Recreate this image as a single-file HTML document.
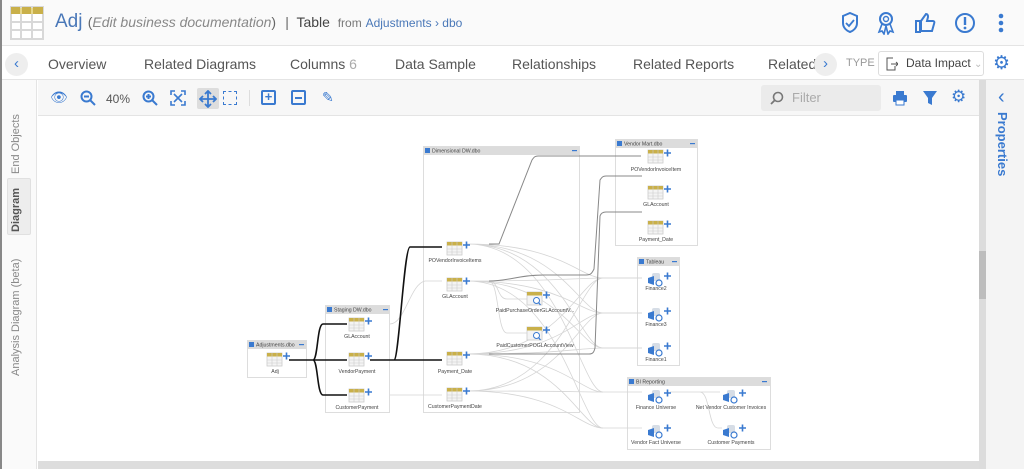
<!DOCTYPE html>
<html><head><meta charset="utf-8"><style>
*{margin:0;padding:0;box-sizing:border-box}
body{width:1024px;height:469px;overflow:hidden;background:#fff;font-family:"Liberation Sans","DejaVu Sans",sans-serif;position:relative}
.abs{position:absolute}
.tab{position:absolute;top:56px;font-size:14px;color:#555}
</style></head><body>
<!-- header -->
<div class="abs" style="left:0;top:0;width:1024px;height:46px;background:#fafafa;border-bottom:1px solid #e4e4e4"></div>
<svg class="abs" style="left:10px;top:6px" width="34" height="34"><rect x="1" y="1" width="32" height="32" fill="#fff" stroke="#d8d8d8" stroke-width="2"/><rect x="1" y="1" width="32" height="7" fill="#c9b04a"/><path d="M11 1V33M22 1V33M1 16H33M1 24H33" stroke="#d8d8d8" stroke-width="2"/><path d="M11 2V8M22 2V8" stroke="#e8d88a" stroke-width="2"/></svg>
<div class="abs" style="left:55px;top:11px;font-size:19px;color:#4a78b8">Adj <span style="font-size:14px;color:#888"><span style="color:#666">(</span><i>Edit business documentation</i><span style="color:#666">)</span></span> <span style="font-size:14px;color:#666">&nbsp;|&nbsp; <span style="color:#444">Table</span> &nbsp;<span style="font-size:12px;color:#777">from</span> <span style="font-size:12px;color:#4a78b8">Adjustments › dbo</span></span></div>
<svg class="abs" style="left:841px;top:12px" width="18" height="22"><path d="M9 1l7 3v7c0 5-4 8-7 9-3-1-7-4-7-9V4z" fill="none" stroke="#3a7ad0" stroke-width="2"/><path d="M5 11l3 3 5-6" fill="none" stroke="#3a7ad0" stroke-width="1.8"/></svg>
<svg class="abs" style="left:876px;top:11px" width="20" height="24"><circle cx="10" cy="8" r="6" fill="none" stroke="#3a7ad0" stroke-width="2"/><circle cx="10" cy="8" r="2.5" fill="none" stroke="#3a7ad0" stroke-width="1.4"/><path d="M6 13l-3 8 3-1 2 3 2-8M14 13l3 8-3-1-2 3-2-8" fill="none" stroke="#3a7ad0" stroke-width="1.6"/></svg>
<svg class="abs" style="left:914px;top:12px" width="22" height="22"><path d="M2 9h4v11H2zM7 9l5-7c2 0 2 2 2 3l-1 4h6c1 0 2 1 1 3l-2 7H7z" fill="none" stroke="#3a7ad0" stroke-width="2"/></svg>
<svg class="abs" style="left:954px;top:12px" width="22" height="22"><circle cx="11" cy="11" r="9" fill="none" stroke="#3a7ad0" stroke-width="2"/><path d="M11 5v8" stroke="#3a7ad0" stroke-width="2.4"/><circle cx="11" cy="16" r="1.4" fill="#3a7ad0"/></svg>
<svg class="abs" style="left:996px;top:13px" width="10" height="20"><circle cx="5" cy="3" r="2.3" fill="#3a7ad0"/><circle cx="5" cy="10" r="2.3" fill="#3a7ad0"/><circle cx="5" cy="17" r="2.3" fill="#3a7ad0"/></svg>
<!-- tabs -->
<div class="abs" style="left:0;top:46px;width:1024px;height:34px;background:#fff;border-bottom:1px solid #e4e4e4"></div>
<div class="abs" style="left:5px;top:53px;width:23px;height:23px;border-radius:50%;background:#eee;color:#3a7ad0;text-align:center;font-size:15px;line-height:22px">‹</div>
<div class="tab" style="left:48px">Overview</div>
<div class="tab" style="left:144px">Related Diagrams</div>
<div class="tab" style="left:290px">Columns <span style="color:#aaa">6</span></div>
<div class="tab" style="left:395px">Data Sample</div>
<div class="tab" style="left:512px">Relationships</div>
<div class="tab" style="left:633px">Related Reports</div>
<div class="tab" style="left:768px">Related</div>
<div class="abs" style="left:814px;top:53px;width:23px;height:23px;border-radius:50%;background:#eee;color:#3a7ad0;text-align:center;font-size:15px;line-height:22px">›</div>
<div class="abs" style="left:846px;top:57px;font-size:11px;color:#999">TYPE</div>
<div class="abs" style="left:878px;top:51px;width:106px;height:25px;border:1px solid #ddd;border-radius:3px;font-size:12px;color:#444;padding:4px 0 0 27px">Data Impact <span style="color:#bbb;font-size:10px">⌄</span></div>
<svg class="abs" style="left:886px;top:57px" width="12" height="14"><path d="M7 1H1v12h8V9" fill="none" stroke="#555"/><path d="M5 7h7M10 5l2 2-2 2" stroke="#555" fill="none"/></svg>
<div class="abs" style="left:993px;top:52px;color:#3a7ad0;font-size:19px">⚙</div>
<!-- left sidebar -->
<div class="abs" style="left:0;top:80px;width:37px;height:389px;background:#fafafa;border-right:1px solid #e4e4e4"></div>
<div class="abs" style="left:0;top:0;width:2px;height:469px;background:#888"></div>
<div class="abs" style="left:7px;top:178px;width:24px;height:57px;background:#ededed;border:1px solid #e0e0e0;border-radius:2px"></div>
<div class="abs" style="left:10px;top:80px;width:18px;height:389px">
<div class="abs" style="left:0;top:94px;transform:rotate(-90deg);transform-origin:0 0;white-space:nowrap;font-size:11px;color:#888;position:absolute">End Objects</div>
<div class="abs" style="left:0;top:152px;transform:rotate(-90deg);transform-origin:0 0;white-space:nowrap;font-size:11px;color:#555;font-weight:bold;position:absolute">Diagram</div>
<div class="abs" style="left:0;top:296px;transform:rotate(-90deg);transform-origin:0 0;white-space:nowrap;font-size:11px;color:#888;position:absolute">Analysis Diagram (beta)</div>
</div>
<!-- toolbar -->
<div class="abs" style="left:38px;top:80px;width:941px;height:36px;background:#f7f7f7;border-bottom:1px solid #e4e4e4"></div>
<div class="abs" style="left:50px;top:89px;color:#3a7ad0;font-size:14px">👁</div>
<svg class="abs" style="left:80px;top:90px" width="16" height="16"><circle cx="6.5" cy="6.5" r="5" fill="none" stroke="#3a7ad0" stroke-width="2"/><path d="M10 10l5 5M4 6.5h5" stroke="#3a7ad0" stroke-width="2"/></svg>
<div class="abs" style="left:106px;top:92px;font-size:12px;color:#555">40%</div>
<svg class="abs" style="left:142px;top:90px" width="16" height="16"><circle cx="6.5" cy="6.5" r="5" fill="none" stroke="#3a7ad0" stroke-width="2"/><path d="M10 10l5 5M4 6.5h5M6.5 4v5" stroke="#3a7ad0" stroke-width="2"/></svg>
<svg class="abs" style="left:170px;top:90px" width="16" height="16"><path d="M1 5V1h4M11 1h4v4M15 11v4h-4M5 15H1v-4M4 4l8 8M12 4l-8 8" fill="none" stroke="#3a7ad0" stroke-width="1.6"/></svg>
<div class="abs" style="left:197px;top:88px;width:22px;height:21px;background:#ddd;border-radius:2px"></div>
<svg class="abs" style="left:199px;top:90px" width="18" height="18"><path d="M9 1v16M1 9h16M6 4l3-3 3 3M6 14l3 3 3-3M4 6L1 9l3 3M14 6l3 3-3 3" fill="none" stroke="#3a7ad0" stroke-width="1.8"/></svg>
<div class="abs" style="left:223px;top:91px;width:14px;height:14px;border:1.5px dashed #3a7ad0"></div>
<div class="abs" style="left:249px;top:90px;width:1px;height:16px;background:#ddd"></div>
<div class="abs" style="left:261px;top:90px;width:15px;height:15px;border:2px solid #3a7ad0;border-radius:2px;color:#3a7ad0;font-size:13px;line-height:10px;text-align:center;font-weight:bold">+</div>
<div class="abs" style="left:291px;top:90px;width:15px;height:15px;border:2px solid #3a7ad0;border-radius:2px"><div style="margin:4.5px 2px;height:2px;background:#3a7ad0"></div></div>
<div class="abs" style="left:322px;top:89px;color:#3a7ad0;font-size:14px">✎</div>
<div class="abs" style="left:761px;top:85px;width:120px;height:26px;background:#ebebeb;border-radius:3px;font-size:13px;color:#aaa;padding:5px 0 0 31px">Filter</div>
<svg class="abs" style="left:770px;top:91px" width="14" height="14"><circle cx="8" cy="6" r="4.5" fill="none" stroke="#777" stroke-width="1.6"/><path d="M5 9l-4 4" stroke="#777" stroke-width="1.8"/></svg>
<svg class="abs" style="left:892px;top:90px" width="16" height="16"><rect x="4" y="1" width="8" height="4" fill="#3a7ad0"/><rect x="1" y="5" width="14" height="7" rx="1" fill="#3a7ad0"/><rect x="4" y="10" width="8" height="5" fill="#fff" stroke="#3a7ad0"/></svg>
<svg class="abs" style="left:922px;top:90px" width="16" height="16"><path d="M1 1h14l-5 7v7l-4-2V8z" fill="#3a7ad0"/></svg>
<div class="abs" style="left:951px;top:87px;color:#3a7ad0;font-size:17px">⚙</div>
<!-- scrollbars & right panel -->
<div class="abs" style="left:38px;top:461px;width:948px;height:8px;background:#ddd"></div>
<div class="abs" style="left:979px;top:80px;width:7px;height:389px;background:#dcdcdc"></div>
<div class="abs" style="left:979px;top:251px;width:7px;height:48px;background:#bdbdbd"></div>
<div class="abs" style="left:986px;top:80px;width:38px;height:389px;background:#f4f4f4"></div>
<div class="abs" style="left:998px;top:86px;color:#3a7ad0;font-size:20px">‹</div>
<div class="abs" style="left:1010px;top:112px;transform:rotate(90deg);transform-origin:0 0;white-space:nowrap;font-size:13px;font-weight:bold;color:#3a7ad0">Properties</div>
<!-- diagram -->
<svg class="abs" style="left:0;top:0" width="1024" height="469" font-family="Liberation Sans, sans-serif" font-size="5.2" fill="#444">
<defs>
<path id="pl" d="M16 3h7M19.5 -0.5v7" stroke="#3a7ad0" stroke-width="1.6" fill="none"/>
<g id="t"><rect x="0" y="0" width="15" height="13" fill="#f4f4f4" stroke="#ccc" stroke-width=".8"/><rect x="0" y="0" width="15" height="3.5" fill="#c9b04a"/><path d="M5 0v13M10 0v13M0 7h15M0 10h15" stroke="#ccc" stroke-width=".6"/><use href="#pl"/></g>
<g id="v"><rect x="0" y="0" width="15" height="13" fill="#f4f4f4" stroke="#ccc" stroke-width=".8"/><rect x="0" y="0" width="15" height="3.5" fill="#c9b04a"/><circle cx="9.5" cy="8.5" r="3" fill="#fff" stroke="#3a7ad0" stroke-width="1"/><path d="M11.5 10.5l2 2.5" stroke="#3a7ad0" stroke-width="1.2"/><use href="#pl"/></g>
<g id="r"><rect x="4" y="0" width="8" height="8" rx="2" fill="#d6dde6"/><path d="M0 5l6-2v9l-6-2z" fill="#3a7ad0"/><circle cx="11" cy="10" r="3" fill="#fff" stroke="#3a7ad0" stroke-width="1.2"/><use href="#pl"/></g>
</defs>
<!-- containers -->
<g fill="#fff" stroke="#ddd" stroke-width="1">
<rect x="247.5" y="340.5" width="59" height="37"/>
<rect x="325.5" y="305.5" width="64" height="107"/>
<rect x="423.5" y="146.5" width="156" height="266"/>
<rect x="615.5" y="139.5" width="82" height="106"/>
<rect x="637.5" y="257.5" width="42" height="108"/>
<rect x="627.5" y="377.5" width="143" height="72"/>
</g>
<g fill="#dcdcdc"><rect x="248" y="341" width="58" height="8"/><rect x="326" y="306" width="63" height="8"/><rect x="424" y="147" width="155" height="8"/><rect x="616" y="140" width="81" height="8"/><rect x="638" y="258" width="41" height="8"/><rect x="628" y="378" width="142" height="8"/></g>
<g fill="#3a7ad0"><rect x="249" y="342" width="5" height="5"/><rect x="327" y="307" width="5" height="5"/><rect x="425" y="148" width="5" height="5"/><rect x="617" y="141" width="5" height="5"/><rect x="639" y="259" width="5" height="5"/><rect x="629" y="379" width="5" height="5"/>
<rect x="299" y="344" width="5" height="1.2"/><rect x="383" y="309" width="5" height="1.2"/><rect x="572" y="150" width="5" height="1.2"/><rect x="690" y="143" width="5" height="1.2"/><rect x="672" y="261" width="5" height="1.2"/><rect x="762" y="381" width="5" height="1.2"/></g>
<g fill="#444"><text x="256" y="346.5">Adjustments.dbo</text><text x="334" y="311.5">Staging DW.dbo</text><text x="432" y="152.5">Dimensional DW.dbo</text><text x="624" y="145.5">Vendor Mart.dbo</text><text x="646" y="263.5">Tableau</text><text x="636" y="383.5">BI Reporting</text></g>
<!-- light lines -->
<g fill="none" stroke="#d5d5d5" stroke-width=".8">
<path d="M390 324C405 324 410 284 425 281h17"/>
<path d="M390 395H442"/>
<path d="M489 281c10 0 8 18 18 18h20M489 281c10 0 8 52 18 52h20"/>
<path d="M467 244C560 244 580 278 603 278h39M467 244C560 244 580 313 603 313h39M467 244C560 244 580 348 603 348h39M467 244C560 244 580 392 603 392h39"/>
<path d="M467 281C560 281 580 278 603 278h39M467 281C560 281 580 313 603 313h39M467 281C560 281 580 348 603 348h39M467 281C560 281 580 428 603 428h39"/>
<path d="M467 354C560 354 580 278 603 278M467 354C560 354 580 313 603 313M467 354C560 354 580 348 603 348M467 354C560 354 580 392 603 392M467 354C560 354 580 428 603 428"/>
<path d="M467 391C560 391 580 278 603 278M467 391C560 391 580 313 603 313M467 391C560 391 580 392 603 392M467 391C560 391 580 428 603 428"/>
<path d="M670 392h30c10 0 8 36 18 36h4M670 392h50"/>
</g>
<!-- dark gray lines -->
<g fill="none" stroke="#888" stroke-width="1">
<path d="M489 244h10L532 160c2-3 3-4 6-4h103"/>
<path d="M489 281c20 0 30-6 55-6h42c5 0 6-2 8-6L600 180c2-3 3-4 6-4h36"/>
<path d="M489 354h100c4 0 5-2 6-6L600 216c1-3 3-4 6-4h36"/>
</g>
<!-- black lines -->
<g fill="none" stroke="#111" stroke-width="1.6">
<path d="M289 360h24c5 0 4-36 10-36h24M289 360h58M313 360c5 0 4 35 10 35h24"/>
<path d="M370 360h24c5 0 10-113 16-113h32M394 360h48"/>
</g>
<!-- nodes -->
<use href="#t" x="267" y="353"/><text x="275" y="373" text-anchor="middle">Adj</text>
<use href="#t" x="349" y="318"/><text x="357" y="338" text-anchor="middle">GLAccount</text>
<use href="#t" x="349" y="353"/><text x="357" y="373" text-anchor="middle">VendorPayment</text>
<use href="#t" x="349" y="389"/><text x="357" y="409" text-anchor="middle">CustomerPayment</text>
<use href="#t" x="447" y="242"/><text x="455" y="262" text-anchor="middle">POVendorInvoiceItems</text>
<use href="#t" x="447" y="278"/><text x="455" y="298" text-anchor="middle">GLAccount</text>
<use href="#v" x="527" y="292"/><text x="535" y="312" text-anchor="middle">PaidPurchaseOrderGLAccountV...</text>
<use href="#v" x="527" y="327"/><text x="535" y="347" text-anchor="middle">PaidCustomerPOGLAccountView</text>
<use href="#t" x="447" y="352"/><text x="455" y="373" text-anchor="middle">Payment_Date</text>
<use href="#t" x="447" y="388"/><text x="455" y="408" text-anchor="middle">CustomerPaymentDate</text>
<use href="#t" x="648" y="150"/><text x="656" y="171" text-anchor="middle">POVendorInvoiceItem</text>
<use href="#t" x="648" y="186"/><text x="656" y="206" text-anchor="middle">GLAccount</text>
<use href="#t" x="648" y="221"/><text x="656" y="241" text-anchor="middle">Payment_Date</text>
<use href="#r" x="648" y="273"/><text x="656" y="290" text-anchor="middle">Finance2</text>
<use href="#r" x="648" y="308"/><text x="656" y="326" text-anchor="middle">Finance3</text>
<use href="#r" x="648" y="343"/><text x="656" y="361" text-anchor="middle">Finance1</text>
<use href="#r" x="648" y="390"/><text x="656" y="409" text-anchor="middle">Finance Universe</text>
<use href="#r" x="648" y="425"/><text x="656" y="444" text-anchor="middle">Vendor Fact Universe</text>
<use href="#r" x="723" y="390"/><text x="731" y="409" text-anchor="middle">Net Vendor Customer Invoices</text>
<use href="#r" x="723" y="425"/><text x="731" y="444" text-anchor="middle">Customer Payments</text>
</svg>
</body></html>
